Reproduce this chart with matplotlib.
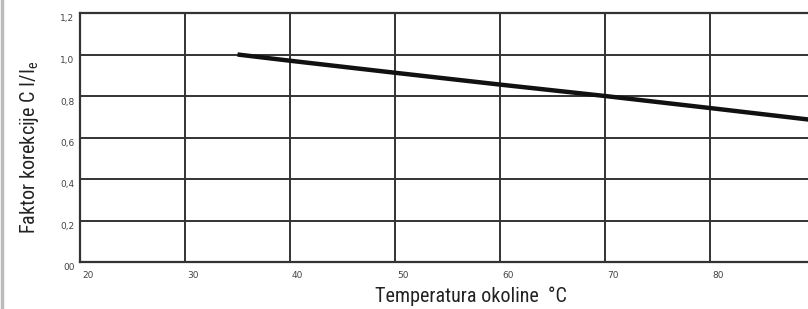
import matplotlib
matplotlib.use("Agg")
import matplotlib.pyplot as plt
import matplotlib.transforms as mtransforms
from matplotlib.lines import Line2D
from matplotlib import font_manager

# Data.
temperature = [35, 40, 50, 60, 70, 80, 90]
factor = [1.0, 0.97, 0.912, 0.855, 0.80, 0.742, 0.683]

x_ticks = [20, 30, 40, 50, 60, 70, 80]
x_tick_labels = ["20", "30", "40", "50", "60", "70", "80"]
y_ticks = [0.0, 0.2, 0.4, 0.6, 0.8, 1.0, 1.2]
y_tick_labels = ["00", "0,2", "0,4", "0,6", "0,8", "1,0", "1,2"]

# pick a condensed face if one is installed
names = {f.name for f in font_manager.fontManager.ttflist}
narrow = "DejaVu Sans"
for cand in ["Liberation Sans Narrow", "Roboto Condensed", "Open Sans Condensed", "DejaVu Sans Condensed"]:
    if cand in names:
        narrow = cand
        break

grid_color = "#333333"

fig = plt.figure(figsize=(8.08, 3.09), dpi=100)
W, H = 808, 309
left, right, top, bottom = 80, 808, 13, 262
ax = fig.add_axes([left / W, 1 - bottom / H, (right - left) / W, (bottom - top) / H])

ax.plot(temperature, factor, color="#111111", linewidth=3.2, solid_capstyle="butt", zorder=3)

x_max = 20 + (right - left) / 10.5
ax.set_xlim(20, x_max)
ax.set_ylim(0, 1.2)

ax.set_xticks(x_ticks)
ax.set_xticklabels(x_tick_labels, fontsize=6.5, color="#444444", ha="left")
ax.set_yticks(y_ticks)
ax.set_yticklabels(y_tick_labels, fontsize=6.5, color="#444444")
ax.tick_params(length=0, pad=6)
ax.tick_params(axis="y", pad=4)

# Shift labels like the reference: x labels right of tick, y labels below gridline.
for lab in ax.get_xticklabels():
    lab.set_transform(lab.get_transform() + mtransforms.ScaledTranslation(2 / 100, -1 / 100, fig.dpi_scale_trans))
for lab in ax.get_yticklabels():
    lab.set_transform(lab.get_transform() + mtransforms.ScaledTranslation(0, -5 / 100, fig.dpi_scale_trans))

ax.grid(True, color=grid_color, linewidth=1.4)
ax.set_axisbelow(True)
for side in ["left", "bottom", "top"]:
    ax.spines[side].set_color(grid_color)
    ax.spines[side].set_linewidth(1.6)
ax.spines["right"].set_visible(False)

fig.text(471 / W, 1 - 296 / H, "Temperatura okoline  °C", ha="center", va="center",
         fontsize=14.5, color="#222222", family=narrow, stretch="condensed")
fig.text(30 / W, 1 - 147 / H, "Faktor korekcije C I/I$_\\mathregular{e}$", ha="center", va="center",
         rotation=90, fontsize=14.5, color="#222222", family=narrow, stretch="condensed")

# Gray border line along the left edge.
fig.add_artist(Line2D([1.5 / W, 1.5 / W], [0, 1], color="#bbbbbb", linewidth=2.5, transform=fig.transFigure))

fig.savefig("out.png", dpi=100)
